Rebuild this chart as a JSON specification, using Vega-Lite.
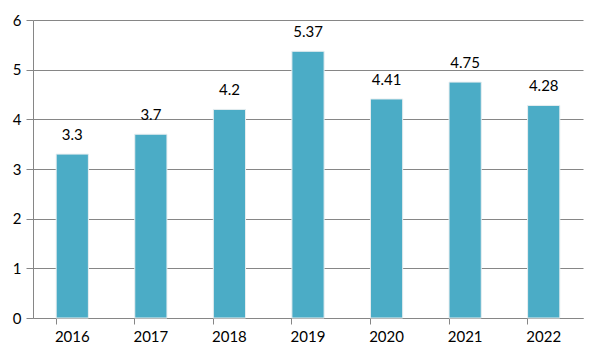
{
  "$schema": "https://vega.github.io/schema/vega-lite/v6.json",
  "width": 550,
  "height": 298,
  "autosize": {"type": "none"},
  "padding": {"left": 33, "top": 20, "right": 19, "bottom": 44},
  "background": "white",
  "config": {
    "view": {"stroke": null},
    "font": "Lato",
    "axis": {"labelFont": "Lato", "labelFontSize": 15, "labelColor": "#000000", "domainColor": "#868686", "tickColor": "#868686", "gridColor": "#868686", "title": null}
  },
  "data": {"values": [
    {"year": "2016", "value": 3.3},
    {"year": "2017", "value": 3.7},
    {"year": "2018", "value": 4.2},
    {"year": "2019", "value": 5.37},
    {"year": "2020", "value": 4.41},
    {"year": "2021", "value": 4.75},
    {"year": "2022", "value": 4.28}
  ]},
  "encoding": {
    "x": {"field": "year", "type": "ordinal", "scale": {"paddingInner": 0.59, "paddingOuter": 0.295},
      "axis": {"labelAngle": 0, "bandPosition": 0, "tickSize": 6, "labelPadding": 5, "grid": false}},
    "y": {"field": "value", "type": "quantitative", "scale": {"domain": [0, 6], "nice": false},
      "axis": {"values": [0, 1, 2, 3, 4, 5, 6], "tickSize": 7, "labelPadding": 5, "grid": true, "gridWidth": 1}}
  },
  "layer": [
    {"mark": {"type": "bar", "color": "#4BACC6", "stroke": "#e8eef0", "strokeWidth": 1}},
    {"mark": {"type": "text", "baseline": "bottom", "dy": -11, "fontSize": 15, "font": "Lato", "color": "#000000"},
      "encoding": {"text": {"field": "value", "type": "quantitative"}}}
  ]
}
